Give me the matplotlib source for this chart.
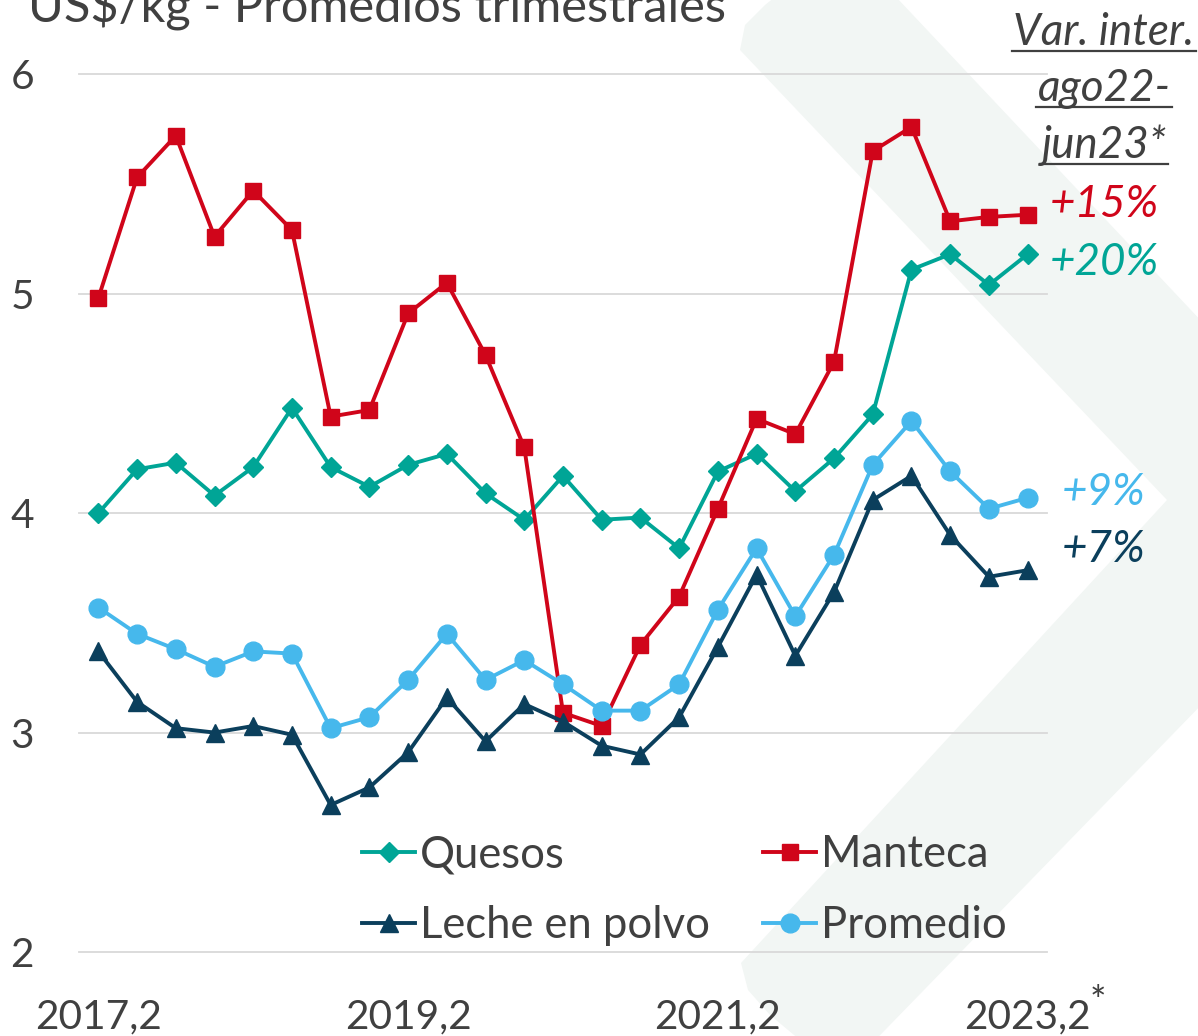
import matplotlib
matplotlib.use("Agg")
import matplotlib.pyplot as plt
from matplotlib.patches import Polygon
from matplotlib.lines import Line2D

plt.rcParams['font.family'] = ['Lato', 'DejaVu Sans']

# ---------------- data ----------------
quarters = ["2017,2", "2017,3", "2017,4",
            "2018,1", "2018,2", "2018,3", "2018,4",
            "2019,1", "2019,2", "2019,3", "2019,4",
            "2020,1", "2020,2", "2020,3", "2020,4",
            "2021,1", "2021,2", "2021,3", "2021,4",
            "2022,1", "2022,2", "2022,3", "2022,4",
            "2023,1", "2023,2"]
shown_ticks = ["2017,2", "2019,2", "2021,2", "2023,2"]

quesos = [4.00, 4.20, 4.23, 4.08, 4.21, 4.48, 4.21, 4.12, 4.22, 4.27, 4.09, 3.97, 4.17,
          3.97, 3.98, 3.84, 4.19, 4.27, 4.10, 4.25, 4.45, 5.11, 5.18, 5.04, 5.18]
manteca = [4.98, 5.53, 5.72, 5.26, 5.47, 5.29, 4.44, 4.47, 4.91, 5.05, 4.72, 4.30, 3.09,
           3.03, 3.40, 3.62, 4.02, 4.43, 4.36, 4.69, 5.65, 5.76, 5.33, 5.35, 5.36]
leche = [3.37, 3.14, 3.02, 3.00, 3.03, 2.99, 2.67, 2.75, 2.91, 3.16, 2.96, 3.13, 3.05,
         2.94, 2.90, 3.07, 3.39, 3.72, 3.35, 3.64, 4.06, 4.17, 3.90, 3.71, 3.74]
promedio = [3.57, 3.45, 3.38, 3.30, 3.37, 3.36, 3.02, 3.07, 3.24, 3.45, 3.24, 3.33, 3.22,
            3.10, 3.10, 3.22, 3.56, 3.84, 3.53, 3.81, 4.22, 4.42, 4.19, 4.02, 4.07]

series_names = ["Quesos", "Manteca", "Leche en polvo", "Promedio"]
variations = ["+20%", "+15%", "+7%", "+9%"]
title = "US$/kg - Promedios trimestrales"
var_header = ["Var. inter.", "ago22-", "jun23*"]

# ---------------- style ----------------
C_Q = "#00A596"
C_M = "#D0051A"
C_L = "#0B3F5C"
C_P = "#46B8EC"
TXT = "#404040"

W, H, DPI = 1198, 1036, 100
fig = plt.figure(figsize=(W / DPI, H / DPI), dpi=DPI)
fig.patch.set_facecolor("white")
renderer = fig.canvas.get_renderer()


def fx(px):
    return px / W


def fy(py):
    return 1 - py / H


def fit_size(s, target_px, base=30.0, **kw):
    t = fig.text(0, 0, s, fontsize=base, **kw)
    w = t.get_window_extent(renderer).width
    t.remove()
    return base * target_px / w


# background chevron decoration (faint)
chev = [(740, 50), (745, 25), (765, 5), (790, -15), (848, -54), (1385, 516),
        (853, 1063), (800, 1040), (770, 1015), (748, 990), (741, 963), (1167, 500)]
fig.patches.append(Polygon([(fx(x), fy(y)) for x, y in chev], closed=True,
                           transform=fig.transFigure, facecolor="#F2F6F4",
                           edgecolor="none", zorder=-5))

# axes
ax_left, ax_right, ax_top, ax_bot = 79, 1047, 74.3, 952
ax = fig.add_axes([fx(ax_left), fy(ax_bot), (ax_right - ax_left) / W, (ax_bot - ax_top) / H])
ax.set_facecolor("none")
ax.set_xlim(-0.5, len(quarters) - 0.5)
ax.set_ylim(2, 6)
for s in ax.spines.values():
    s.set_visible(False)

fs_tick = fit_size("2017,2", 127)
fs_title = fit_size(title, 697)
fs_leg = fit_size("Leche en polvo", 290)
fs_ann = fit_size("Var. inter.", 181, style="italic")

ax.set_yticks([2, 3, 4, 5, 6])
ax.set_yticklabels(["2", "3", "4", "5", "6"])
ax.yaxis.grid(True, color="#D9D9D9", linewidth=1.3)
for gl in ax.get_ygridlines():
    gl.set_clip_on(False)
ax.set_axisbelow(True)
xt = [quarters.index(q) for q in shown_ticks]
ax.set_xticks(xt)
ax.set_xticklabels(shown_ticks)
ax.tick_params(axis="both", length=0, labelsize=fs_tick, labelcolor=TXT)
ax.tick_params(axis="y", pad=45 * 72 / DPI)
ax.tick_params(axis="x", pad=46 * 72 / DPI)

x = list(range(len(quarters)))
lw = 2.8
hq, = ax.plot(x, quesos, color=C_Q, lw=lw, marker="D", ms=10.5, mec=C_Q, label=series_names[0], zorder=3)
hm, = ax.plot(x, manteca, color=C_M, lw=lw, marker="s", ms=12, mec=C_M, label=series_names[1], zorder=3)
hl, = ax.plot(x, leche, color=C_L, lw=lw, marker="^", ms=13, mec=C_L, label=series_names[2], zorder=3)
hp, = ax.plot(x, promedio, color=C_P, lw=lw, marker="o", ms=13.5, mec=C_P, label=series_names[3], zorder=3)

fs_leg_px = fs_leg * DPI / 72
leg = ax.legend(handles=[hq, hl, hm, hp], ncol=2, frameon=False,
                loc="upper left", bbox_to_anchor=(fx(362), fy(834)),
                bbox_transform=fig.transFigure, fontsize=fs_leg,
                handlelength=53 / fs_leg_px, handletextpad=5 / fs_leg_px,
                columnspacing=53 / fs_leg_px, labelspacing=0.5 + 8 / fs_leg_px,
                borderpad=0, borderaxespad=0)
for t in leg.get_texts():
    t.set_color(TXT)

# asterisk on last tick
fig.text(fx(1098), fy(1003), "*", fontsize=fs_tick * 0.95, color=TXT, ha="center", va="center")

# title (partially cut at the top)
fig.text(fx(28), fy(22), title, fontsize=fs_title, color=TXT, ha="left", va="baseline")

# header of variation column, underlined
cx = 1104
for s, base in zip(var_header, [45, 101, 158]):
    t = fig.text(fx(cx), fy(base), s, fontsize=fs_ann, color=TXT, style="italic",
                 ha="center", va="baseline")
    bb = t.get_window_extent(renderer)
    fig.add_artist(Line2D([fx(bb.x0 - 1), fx(bb.x1 + 1)], [fy(base + 6), fy(base + 6)],
                          transform=fig.transFigure, color=TXT, lw=1.6))

# variation labels
for s, base, c in zip(variations, [275, 217, 562, 505], [C_Q, C_M, C_L, C_P]):
    fig.text(fx(cx), fy(base), s, fontsize=fs_ann, color=c, style="italic",
             ha="center", va="baseline")

fig.savefig("out.png", dpi=DPI)
